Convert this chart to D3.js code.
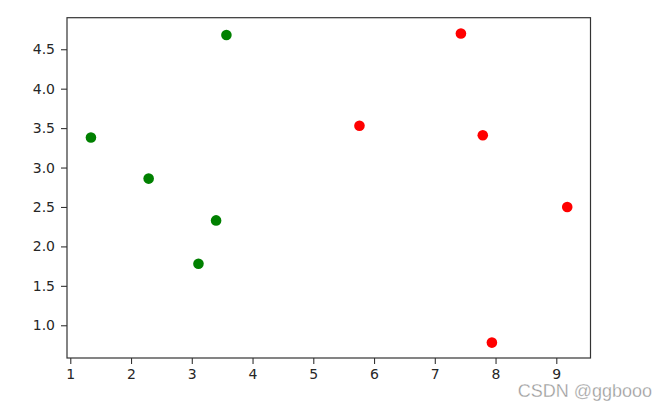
<!DOCTYPE html>
<html><head><meta charset="utf-8">
<script src="https://cdn.jsdelivr.net/npm/d3@7"></script>
<style>body{margin:0;background:#fff}svg{display:block}</style>
</head><body>
<svg id="c" width="667" height="410"></svg>
<script>
const greenX = [1.34, 2.29, 3.57, 3.40, 3.11];
const greenY = [3.38, 2.86, 4.68, 2.33, 1.78];
const redX = [7.43, 5.76, 7.79, 9.18, 7.94];
const redY = [4.70, 3.53, 3.41, 2.50, 0.78];
const xTicks = [1, 2, 3, 4, 5, 6, 7, 8, 9];
const yTicks = [1.0, 1.5, 2.0, 2.5, 3.0, 3.5, 4.0, 4.5];

const svg = d3.select("#c");
const L = 67, R = 590.5, T = 17.7, B = 358;
const x = d3.scaleLinear().domain([0.946, 9.563]).range([L, R]);
const y = d3.scaleLinear().domain([0.585, 4.90]).range([B, T]);
const font = "DejaVu Sans, sans-serif";

const gx = svg.append("g").attr("transform", `translate(0,${B})`)
  .call(d3.axisBottom(x).tickValues(xTicks).tickFormat(d3.format("d")).tickSize(6).tickPadding(5));
const gy = svg.append("g").attr("transform", `translate(${L},0)`)
  .call(d3.axisLeft(y).tickValues(yTicks).tickFormat(d3.format(".1f")).tickSize(6).tickPadding(6));
[gx, gy].forEach(g => {
  g.select(".domain").remove();
  g.selectAll("line").attr("stroke", "#333").attr("stroke-width", 1.1);
  g.selectAll("text").attr("fill", "#262626").style("font-family", font).style("font-size", "14px");
});

svg.append("rect").attr("x", L).attr("y", T).attr("width", R - L).attr("height", B - T)
  .attr("fill", "none").attr("stroke", "#333").attr("stroke-width", 1.2);

svg.append("g").selectAll("circle").data(greenX.map((d, i) => [d, greenY[i]])).join("circle")
  .attr("cx", d => x(d[0])).attr("cy", d => y(d[1])).attr("r", 5.3).attr("fill", "#008000");
svg.append("g").selectAll("circle").data(redX.map((d, i) => [d, redY[i]])).join("circle")
  .attr("cx", d => x(d[0])).attr("cy", d => y(d[1])).attr("r", 5.3).attr("fill", "#ff0000");

svg.append("text").attr("x", 652).attr("y", 397).attr("text-anchor", "end")
  .style("font-family", "Liberation Sans, Arial, sans-serif").style("font-size", "18px")
  .attr("fill", "#999").attr("stroke", "#fff").attr("stroke-width", 0.3)
  .text("CSDN @ggbooo");
</script>
</body></html>
